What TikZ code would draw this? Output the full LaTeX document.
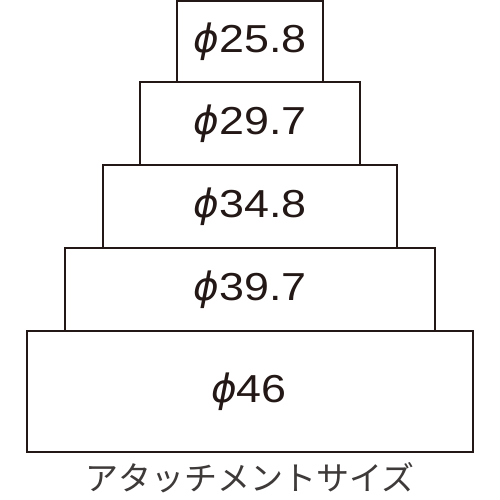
\documentclass[tikz,border=0pt]{standalone}
\usepackage{fontspec}
\newfontfamily\numfont[FakeStretch=1.15]{Liberation Sans}
\newfontfamily\phifont{DejaVu Sans}
\newfontfamily\jpfont{Noto Sans CJK JP}
\newcommand{\phisym}{{\phifont\itshape ϕ}}
\definecolor{ink}{HTML}{231815}
\definecolor{capgray}{HTML}{3E3A39}
\begin{document}
\begin{tikzpicture}[x=1pt,y=-1pt,
  tier/.style={draw=ink,line width=1.8pt,fill=white},
  lbl/.style={anchor=base,inner sep=0pt,font=\numfont\fontsize{39}{39}\selectfont,text=ink}]
\useasboundingbox (0,0) rectangle (500,500);
\fill[white] (0,0) rectangle (500,500);
\draw[tier] (177,1) rectangle (323,82);
\draw[tier] (140,82) rectangle (360,165);
\draw[tier] (103,165) rectangle (397,248);
\draw[tier] (65,248) rectangle (435,331);
\draw[tier] (27,331) rectangle (473,452);
\node[lbl] (t1) at (250,53) {\phisym25.8};
\node[lbl] (t2) at (250,135) {\phisym29.7};
\node[lbl] (t3) at (250,217) {\phisym34.8};
\node[lbl] (t4) at (250,300) {\phisym39.7};
\node[lbl] (t5) at (249,402) {\phisym46};
\node[inner sep=0pt,font=\jpfont\fontsize{33}{33}\selectfont,text=capgray] (cap) at (250,478) {アタッチメントサイズ};
\end{tikzpicture}
\end{document}
